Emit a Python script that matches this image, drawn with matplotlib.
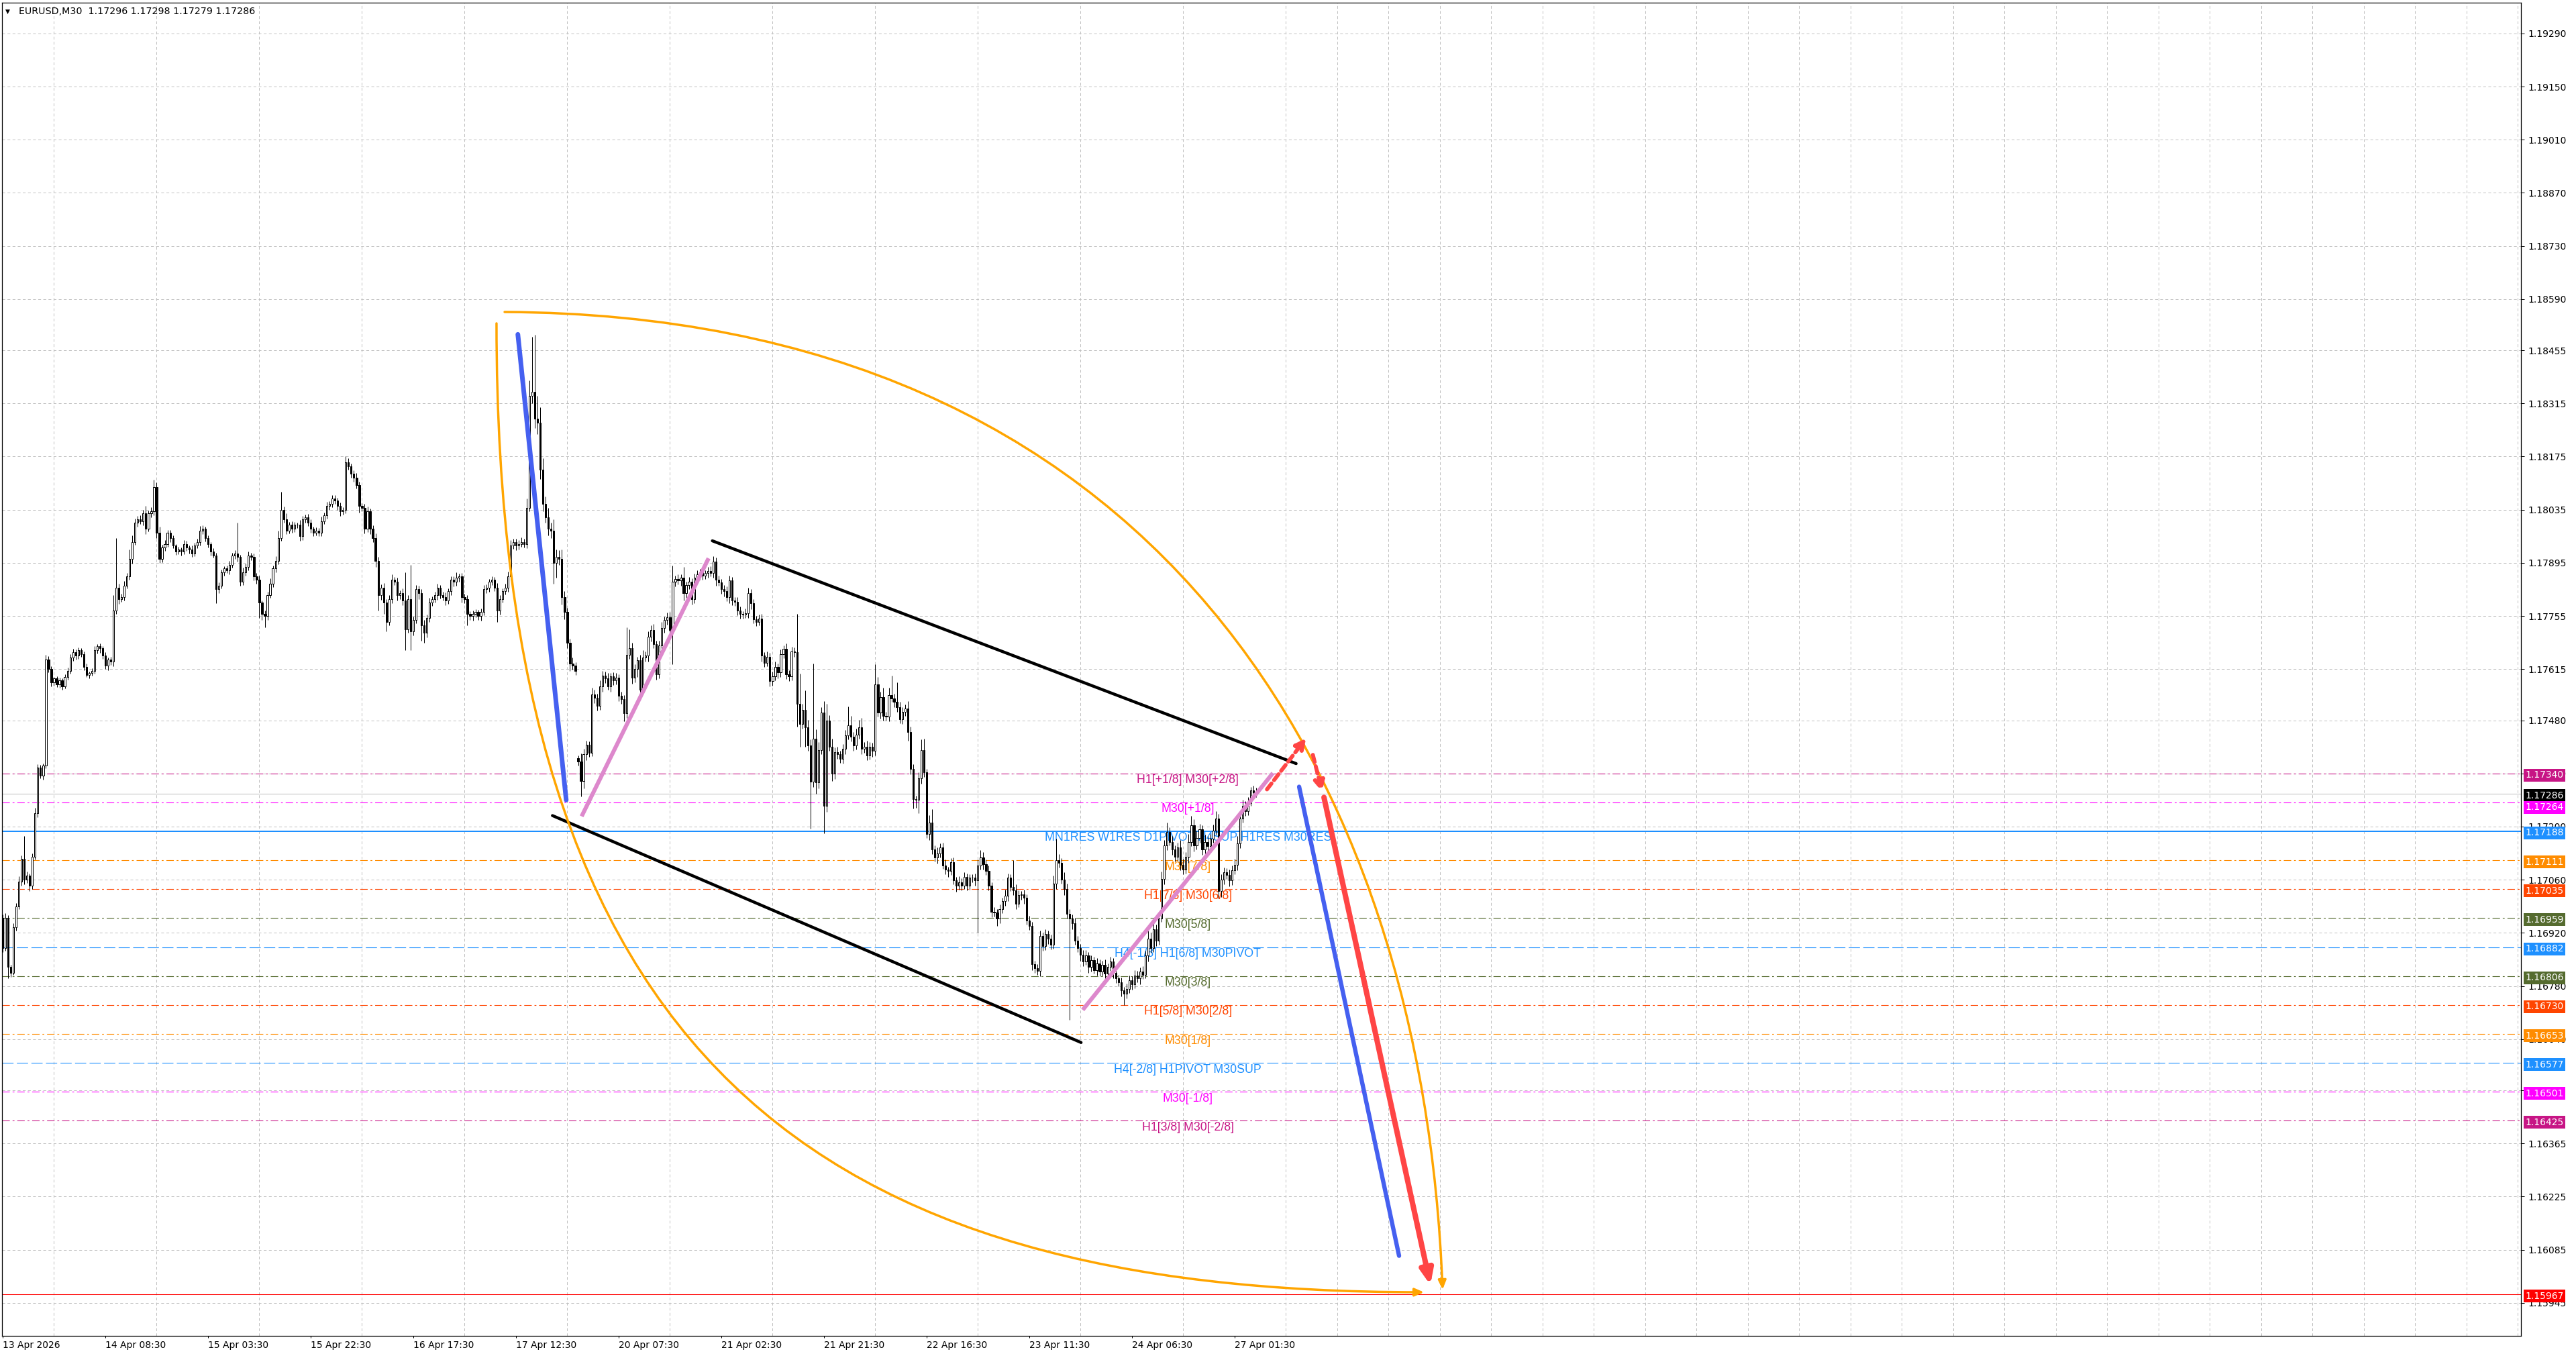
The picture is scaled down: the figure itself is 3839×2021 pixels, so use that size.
import matplotlib
matplotlib.use("Agg")
import matplotlib.pyplot as plt
from matplotlib.patches import FancyArrowPatch
from matplotlib.path import Path

plt.rcParams["lines.scale_dashes"] = False
plt.rcParams["font.family"] = ["DejaVu Sans"]

BASE = 1.16
POINT = 0.00001

# EURUSD M30 closes, in points above 1.16000, one value per bar (bar 0 = 13 Apr 13:30)
closes = [
    880, 960, 830, 815, 935, 990, 1055, 1115, 1060, 1070,
    1045, 1120, 1235, 1355, 1335, 1360, 1640, 1615, 1580, 1590,
    1575, 1585, 1570, 1595, 1610, 1645, 1660, 1650, 1665, 1655,
    1620, 1600, 1605, 1610, 1665, 1675, 1670, 1650, 1625, 1640,
    1635, 1770, 1830, 1800, 1805, 1835, 1860, 1905, 1950, 2000,
    2010, 2005, 2025, 1985, 2025, 2030, 2095, 1975, 1905, 1935,
    1945, 1975, 1960, 1940, 1925, 1930, 1925, 1945, 1935, 1930,
    1920, 1940, 1950, 1980, 1985, 1960, 1945, 1925, 1915, 1825,
    1835, 1870, 1880, 1875, 1890, 1915, 1920, 1910, 1845, 1870,
    1885, 1915, 1910, 1860, 1850, 1790, 1760, 1755, 1810, 1840,
    1880, 1900, 1960, 2035, 2010, 1980, 1995, 1985, 1995, 1995,
    1965, 2010, 2015, 2000, 1985, 1975, 1980, 1975, 2005, 2020,
    2045, 2050, 2065, 2060, 2045, 2030, 2035, 2160, 2150, 2130,
    2120, 2100, 2045, 2040, 1985, 2030, 1985, 1960, 1900, 1810,
    1830, 1790, 1740, 1800, 1850, 1845, 1810, 1815, 1795, 1720,
    1800, 1715, 1745, 1825, 1815, 1730, 1710, 1750, 1790, 1800,
    1810, 1830, 1810, 1805, 1795, 1820, 1850, 1845, 1855, 1860,
    1805, 1800, 1760, 1755, 1760, 1765, 1755, 1765, 1825, 1830,
    1845, 1850, 1830, 1770, 1800, 1820, 1830, 1860, 1940, 1950,
    1940, 1945, 1950, 1945, 2040, 2335, 2345, 2275, 2265, 2140,
    2050, 2015, 1985, 1980, 1895, 1910, 1905, 1805, 1765, 1685,
    1630, 1625, 1610, 1372, 1320, 1390, 1415, 1395, 1548, 1540,
    1518, 1570, 1598, 1590, 1570, 1596, 1585, 1592, 1545, 1535,
    1498, 1652, 1670, 1592, 1615, 1638, 1560, 1645, 1650, 1700,
    1718, 1680, 1602, 1678, 1724, 1744, 1752, 1718, 1845, 1852,
    1848, 1855, 1815, 1836, 1845, 1800, 1856, 1864, 1870, 1862,
    1868, 1874, 1868, 1898, 1850, 1844, 1826, 1820, 1804, 1848,
    1796, 1792, 1770, 1760, 1758, 1762, 1816, 1788, 1746, 1740,
    1748, 1650, 1632, 1648, 1584, 1596, 1620, 1606, 1654, 1668,
    1602, 1596, 1662, 1660, 1523, 1470, 1508, 1461, 1414, 1319,
    1431, 1316, 1402, 1500, 1254, 1479, 1411, 1340, 1396, 1390,
    1378, 1405, 1440, 1467, 1437, 1414, 1443, 1461, 1405, 1411,
    1387, 1411, 1399, 1574, 1500, 1541, 1491, 1490, 1547, 1538,
    1529, 1514, 1482, 1502, 1511, 1449, 1352, 1272, 1270, 1328,
    1402, 1343, 1180, 1210, 1139, 1118, 1130, 1145, 1098, 1086,
    1083, 1106, 1059, 1044, 1054, 1044, 1068, 1044, 1065, 1066,
    1059, 1098, 1118, 1101, 1083, 1044, 976, 973, 958, 982,
    1003, 1018, 1065, 1041, 1032, 997, 1020, 1021, 1012, 953,
    938, 837, 826, 820, 911, 885, 917, 905, 888, 1050,
    1112, 1104, 1060, 1035, 970, 958, 945, 900, 880, 862,
    845, 860, 830, 848, 822, 840, 818, 835, 812, 830,
    845, 815, 800, 790, 768, 760, 772, 795, 785, 808,
    800, 818, 810, 860, 905, 880, 930, 900, 958, 1062,
    1150, 1186, 1160, 1140, 1120, 1145, 1100, 1086, 1120, 1160,
    1204, 1150, 1170, 1192, 1140, 1160, 1148, 1168, 1190, 1221,
    1030, 1060, 1080, 1072, 1058, 1085, 1100, 1156, 1221, 1255,
    1240, 1262, 1295, 1290, 1286,
]

# wick lengths in points above / below the body
upper_wick = [
    8, 12, 6, 5, 10, 8, 14, 9, 60, 12, 7, 9, 15, 10, 8, 6, 12, 9, 7, 5,
    6, 8, 5, 7, 9, 10, 8, 6, 7, 5, 6, 9, 4, 7, 10, 6, 8, 5, 9, 6,
    7, 40, 130, 10, 8, 12, 9, 25, 18, 12, 8, 10, 9, 20, 8, 11, 19, 12, 15, 8,
    9, 7, 6, 8, 5, 7, 6, 9, 8, 6, 10, 7, 9, 12, 8, 6, 7, 5, 8, 6,
    9, 7, 6, 8, 10, 7, 9, 80, 6, 12, 8, 10, 7, 9, 8, 12, 6, 10, 9, 14,
    8, 12, 20, 48, 9, 15, 7, 10, 8, 6, 12, 9, 7, 8, 10, 6, 9, 7, 11, 8,
    10, 7, 9, 8, 6, 8, 7, 15, 10, 6, 8, 12, 9, 7, 10, 14, 8, 9, 12, 10,
    8, 12, 10, 9, 15, 8, 10, 7, 12, 75, 10, 90, 8, 12, 9, 10, 14, 8, 12, 7,
    9, 10, 7, 8, 12, 8, 10, 9, 15, 7, 9, 8, 10, 7, 9, 8, 6, 10, 12, 9,
    8, 10, 7, 12, 9, 8, 10, 12, 15, 9, 8, 10, 12, 9, 25, 40, 145, 150, 60, 40,
    30, 20, 25, 15, 30, 20, 18, 25, 15, 12, 10, 15, 8, 8, 20, 15, 12, 10, 18, 12,
    10, 15, 12, 10, 14, 8, 10, 12, 9, 10, 12, 73, 50, 15, 12, 10, 14, 20, 12, 15,
    12, 15, 10, 12, 15, 10, 12, 14, 43, 10, 12, 9, 30, 10, 12, 9, 10, 12, 9, 10,
    8, 10, 12, 15, 10, 12, 9, 10, 12, 14, 10, 9, 12, 10, 8, 12, 14, 10, 12, 9,
    10, 12, 9, 14, 10, 12, 15, 10, 12, 9, 14, 10, 12, 10, 100, 80, 15, 51, 20, 15,
    199, 25, 20, 15, 30, 44, 15, 20, 12, 15, 10, 12, 15, 50, 25, 12, 15, 20, 25, 12,
    15, 12, 10, 53, 20, 15, 25, 12, 18, 50, 12, 51, 15, 12, 10, 20, 15, 12, 10, 15,
    27, 30, 9, 20, 35, 12, 15, 10, 12, 15, 8, 10, 12, 9, 15, 10, 12, 9, 10, 8,
    10, 15, 20, 15, 12, 15, 10, 12, 9, 12, 10, 15, 12, 10, 70, 15, 12, 10, 12, 9,
    12, 10, 9, 12, 15, 10, 12, 9, 10, 20, 56, 15, 12, 20, 15, 12, 10, 15, 12, 10,
    12, 15, 10, 12, 9, 14, 10, 12, 15, 10, 12, 9, 14, 10, 12, 9, 15, 12, 10, 14,
    12, 10, 15, 12, 20, 15, 18, 12, 15, 20, 15, 25, 12, 15, 10, 12, 20, 15, 12, 20,
    25, 15, 20, 15, 12, 18, 15, 12, 15, 20, 12, 15, 12, 10, 15, 12, 15, 20, 12, 15,
    12, 15, 10, 12, 12,
]
lower_wick = [
    10, 8, 30, 12, 6, 9, 7, 10, 12, 8, 15, 9, 6, 10, 8, 12, 7, 9, 10, 8,
    7, 9, 10, 6, 8, 7, 9, 10, 8, 7, 9, 6, 10, 8, 7, 9, 12, 8, 10, 14,
    9, 12, 10, 14, 8, 10, 7, 9, 12, 8, 10, 7, 12, 14, 8, 10, 9, 15, 10, 8,
    9, 8, 10, 7, 9, 8, 10, 7, 8, 10, 9, 8, 7, 9, 10, 8, 9, 10, 7, 36,
    10, 8, 9, 7, 10, 8, 9, 12, 10, 8, 9, 10, 8, 12, 10, 40, 15, 30, 10, 8,
    9, 10, 8, 7, 10, 9, 8, 10, 9, 8, 12, 10, 9, 8, 10, 9, 8, 10, 9, 8,
    9, 10, 8, 9, 10, 12, 8, 10, 9, 10, 12, 9, 18, 10, 12, 9, 14, 10, 15, 40,
    12, 30, 25, 10, 12, 9, 15, 10, 12, 55, 10, 50, 12, 10, 15, 40, 25, 12, 10, 9,
    10, 12, 9, 10, 12, 9, 10, 12, 10, 9, 15, 12, 30, 10, 12, 9, 10, 12, 8, 10,
    12, 9, 10, 30, 12, 10, 9, 12, 10, 9, 12, 10, 8, 10, 12, 10, 20, 25, 30, 25,
    20, 15, 18, 20, 55, 40, 15, 20, 18, 15, 20, 12, 10, 12, 40, 20, 15, 12, 10, 15,
    12, 10, 15, 12, 10, 14, 12, 10, 15, 12, 20, 12, 10, 15, 12, 20, 14, 12, 10, 15,
    12, 10, 15, 12, 10, 14, 12, 15, 90, 12, 10, 14, 20, 12, 10, 15, 12, 10, 14, 12,
    10, 12, 9, 12, 15, 10, 12, 14, 10, 15, 12, 10, 14, 12, 10, 9, 12, 15, 10, 12,
    10, 15, 12, 10, 14, 12, 10, 15, 12, 10, 14, 12, 10, 12, 60, 59, 12, 50, 15, 124,
    15, 29, 15, 12, 72, 15, 12, 20, 15, 12, 10, 12, 15, 10, 12, 15, 10, 12, 15, 10,
    12, 10, 15, 12, 10, 15, 12, 10, 12, 10, 15, 12, 10, 12, 10, 23, 15, 25, 20, 35,
    15, 12, 10, 15, 12, 10, 15, 12, 10, 12, 15, 10, 12, 15, 10, 12, 9, 12, 10, 12,
    15, 139, 12, 15, 10, 12, 15, 10, 20, 12, 10, 12, 15, 10, 12, 15, 10, 12, 15, 12,
    10, 15, 12, 10, 15, 12, 10, 15, 12, 10, 15, 12, 10, 15, 12, 267, 15, 12, 10, 15,
    12, 10, 15, 12, 10, 15, 12, 10, 15, 12, 10, 15, 12, 10, 15, 31, 12, 10, 15, 12,
    10, 15, 12, 10, 15, 12, 10, 15, 12, 10, 15, 12, 10, 15, 12, 10, 15, 12, 10, 15,
    12, 15, 10, 12, 15, 10, 12, 15, 10, 12, 20, 15, 12, 10, 15, 12, 10, 15, 12, 10,
    12, 10, 8, 10, 8,
]
first_open = 960
monday_bar = 213      # first bar after the weekend gap
monday_open = 1380

x_label_bars = [0, 38, 76, 114, 152, 190, 228, 266, 304, 342, 380, 418, 456]
x_labels = ["13 Apr 2026", "14 Apr 08:30", "15 Apr 03:30", "15 Apr 22:30",
            "16 Apr 17:30", "17 Apr 12:30", "20 Apr 07:30", "21 Apr 02:30",
            "21 Apr 21:30", "22 Apr 16:30", "23 Apr 11:30", "24 Apr 06:30",
            "27 Apr 01:30"]
price_ticks = [1.19290, 1.19150, 1.19010, 1.18870, 1.18730, 1.18590, 1.18455,
               1.18315, 1.18175, 1.18035, 1.17895, 1.17755, 1.17615, 1.17480,
               1.17340, 1.17200, 1.17060, 1.16920, 1.16780, 1.16640, 1.16505,
               1.16365, 1.16225, 1.16085, 1.15945]

# murrey / pivot levels
level_prices = [1.17340, 1.17264, 1.17188, 1.17111, 1.17035, 1.16959, 1.16882,
                1.16806, 1.16730, 1.16653, 1.16577, 1.16501, 1.16425]
level_texts = ["H1[+1/8] M30[+2/8]", "M30[+1/8]",
               "MN1RES W1RES D1PIVOT H4SUP H1RES M30RES", "M30[7/8]",
               "H1[7/8] M30[6/8]", "M30[5/8]", "H4[-1/8] H1[6/8] M30PIVOT",
               "M30[3/8]", "H1[5/8] M30[2/8]", "M30[1/8]",
               "H4[-2/8] H1PIVOT M30SUP", "M30[-1/8]", "H1[3/8] M30[-2/8]"]
level_colors = ["#C71585", "#FF00FF", "#1E90FF", "#FF8C00", "#FF4500", "#556B2F",
                "#1E90FF", "#556B2F", "#FF4500", "#FF8C00", "#1E90FF", "#FF00FF",
                "#C71585"]
level_kinds = ["dashdot", "dashdot", "solid", "dashdot", "dashdot", "dashdot",
               "dashed", "dashdot", "dashdot", "dashdot", "dashed", "dashdot",
               "dashdot"]
label_bar = 438.7
current_price = 1.17286
target_price = 1.15967

# hand drawn objects, (bar, price)
blue_drop_1 = [(190.7, 1.18497), (208.6, 1.17270)]
pink_rise_1 = [(214.3, 1.17227), (261.3, 1.17907)]
channel_top = [(262.7, 1.17953), (478.8, 1.17366)]
channel_bottom = [(203.5, 1.17229), (399.2, 1.16631)]
pink_rise_2 = [(399.8, 1.16717), (470.2, 1.17341)]
red_dash_up = [(468.0, 1.17298), (482.5, 1.17433)]
red_dash_down = [(485.0, 1.17389), (488.4, 1.17292)]
red_target = [(489.1, 1.17277), (528.5, 1.15992)]
blue_drop_2 = [(479.9, 1.17305), (516.9, 1.16069)]
arc_left = [(182.8, 1.18526), (182.8, 1.16581), (301.8, 1.15973), (526.1, 1.15973)]
arc_right = [(185.8, 1.18556), (426.2, 1.18547), (525.6, 1.17345), (533.0, 1.15980)]

# price boxes on the right scale
box_prices = [1.17340, 1.17286, 1.17264, 1.17188, 1.17111, 1.17035, 1.16959,
              1.16882, 1.16806, 1.16730, 1.16653, 1.16577, 1.16501, 1.16425, 1.15967]
box_colors = ["#C71585", "black", "#FF00FF", "#1E90FF", "#FF8C00", "#FF4500",
              "#556B2F", "#1E90FF", "#556B2F", "#FF4500", "#FF8C00", "#1E90FF",
              "#FF00FF", "#C71585", "red"]
box_nudge = [0, 0, -3.5, 0, 0, 0, 0, 0, 0, 0, 0, 0, 0, 0, 0]   # points, to avoid overlap

# ---------------------------------------------------------------
opens = [first_open] + closes[:-1]
opens[monday_bar] = monday_open
o = [BASE + v * POINT for v in opens]
c = [BASE + v * POINT for v in closes]
hi = [max(a, b) + u * POINT for a, b, u in zip(o, c, upper_wick)]
lo = [min(a, b) - d * POINT for a, b, d in zip(o, c, lower_wick)]
xs = list(range(len(c)))

W, H = 3839, 2021
fig = plt.figure(figsize=(W / 100, H / 100), dpi=100)
ax = fig.add_axes([3 / W, 1 - 1991 / H, (3757 - 3) / W, (1991 - 4) / H])
ax.set_xlim(-0.25, 932.2)
ax.set_ylim(1.15858, 1.19371)

grid_kw = dict(color="#C0C0C0", linestyle=(0, (3, 2.5)), linewidth=0.72)
ax.set_yticks(price_ticks)
ax.set_yticklabels([f"{p:.5f}" for p in price_ticks])
ax.yaxis.tick_right()
ax.grid(axis="y", **grid_kw)
ax.set_xticks(x_label_bars)
ax.set_xticklabels(x_labels)
ax.set_xticks(range(0, 933, 19), minor=True)
ax.grid(axis="x", which="minor", **grid_kw)
ax.grid(axis="x", which="major", visible=False)
ax.set_axisbelow(True)
ax.tick_params(axis="y", direction="out", length=3.6, width=0.72, pad=4, labelsize=10)
ax.tick_params(axis="x", direction="out", length=2.2, width=0.72, pad=2.5, labelsize=10)
ax.tick_params(which="minor", length=0)
for lab in ax.get_xticklabels():
    lab.set_horizontalalignment("left")
for s in ax.spines.values():
    s.set_linewidth(0.9)
    s.set_color("black")

dash_styles = {"dashdot": (0, (8, 3, 2, 3)), "dashed": (0, (12, 3.6)), "solid": "-"}
for p, txt, col, kind in zip(level_prices, level_texts, level_colors, level_kinds):
    ax.axhline(p, color=col, linestyle=dash_styles[kind],
               linewidth=1.45 if kind == "solid" else 0.8, zorder=2)
    ax.annotate(txt, xy=(label_bar, p), xytext=(0, -1), textcoords="offset points",
                ha="center", va="top", fontsize=12.8, color=col,
                family=["Liberation Sans", "DejaVu Sans"], zorder=2.5)
ax.axhline(current_price, color="#C0C0C0", linewidth=0.75, zorder=2)
ax.axhline(target_price, color="red", linewidth=0.75, zorder=2)

# candles
ax.vlines(xs, lo, hi, colors="black", linewidth=0.72, zorder=3)
bottoms = [min(a, b) for a, b in zip(o, c)]
heights = [abs(b - a) for a, b in zip(o, c)]
faces = ["white" if b > a else "black" for a, b in zip(o, c)]
ax.bar(xs, heights, bottom=bottoms, width=0.55, color=faces, edgecolor="black",
       linewidth=0.72, zorder=3.1)


def seg(pts, color, lw, cap="round"):
    ax.plot([p[0] for p in pts], [p[1] for p in pts], color=color, linewidth=lw,
            solid_capstyle=cap, zorder=4)


def arrow(pts, color, lw, hl, hw, ls="-"):
    a = FancyArrowPatch(pts[0], pts[1], arrowstyle=f"-|>,head_length={hl},head_width={hw}",
                        mutation_scale=1, shrinkA=0, shrinkB=0, color=color,
                        linewidth=lw, linestyle=ls, capstyle="round", zorder=4.2)
    ax.add_patch(a)


def curve(pts, color, lw, hl, hw):
    path = Path(pts, [Path.MOVETO, Path.CURVE4, Path.CURVE4, Path.CURVE4])
    a = FancyArrowPatch(path=path, arrowstyle=f"-|>,head_length={hl},head_width={hw}",
                        mutation_scale=1, color=color, linewidth=lw, zorder=4.1)
    ax.add_patch(a)


curve(arc_left, "#FFA500", 2.5, 8, 3.5)
curve(arc_right, "#FFA500", 2.5, 8, 3.5)
seg(blue_drop_1, "#4560F0", 5.0)
seg(pink_rise_1, "#DD88CC", 4.4, cap="butt")
seg(channel_top, "black", 3.2)
seg(channel_bottom, "black", 3.2)
seg(pink_rise_2, "#DD88CC", 4.4, cap="butt")
seg(blue_drop_2, "#4560F0", 4.6)
arrow(red_dash_up, "#FF4545", 4.2, 9, 4.5, ls=(0, (8, 4.5)))
arrow(red_dash_down, "#FF4545", 4.2, 9, 4.5, ls=(0, (8, 4.5)))
arrow(red_target, "#FF4545", 5.8, 13, 5.5)

for p, col, nudge in zip(box_prices, box_colors, box_nudge):
    ax.annotate(f"{p:.5f}", xy=(1, p), xycoords=ax.get_yaxis_transform(),
                xytext=(4.5, -1.8 + nudge), textcoords="offset points", ha="left",
                va="center", fontsize=10, color="white", annotation_clip=False, zorder=6,
                bbox=dict(boxstyle="square,pad=0.18", fc=col, ec="none"))

fig.text(8 / W, 1 - 17 / H, "\u25BC", fontsize=6.5, va="center", ha="left")
fig.text(28 / W, 1 - 17 / H, "EURUSD,M30  1.17296 1.17298 1.17279 1.17286",
         fontsize=10.3, va="center", ha="left")

fig.savefig("out.png", dpi=100)
